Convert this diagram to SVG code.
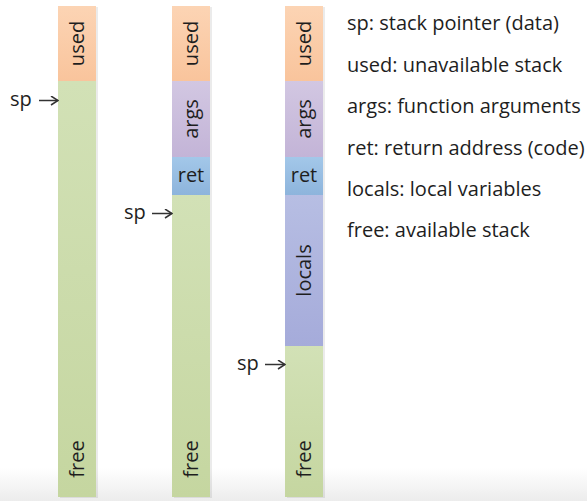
<svg xmlns="http://www.w3.org/2000/svg" width="587" height="501" viewBox="0 0 587 501">
  <defs>
    <linearGradient id="gUsed" x1="0" y1="0" x2="0" y2="1">
      <stop offset="0" stop-color="#fcd4b4"/>
      <stop offset="1" stop-color="#f9c49c"/>
    </linearGradient>
    <linearGradient id="gArgs" x1="0" y1="0" x2="0" y2="1">
      <stop offset="0" stop-color="#d2c7e2"/>
      <stop offset="1" stop-color="#c3b4d7"/>
    </linearGradient>
    <linearGradient id="gRet" x1="0" y1="0" x2="0" y2="1">
      <stop offset="0" stop-color="#a3c7e9"/>
      <stop offset="1" stop-color="#8db4dc"/>
    </linearGradient>
    <linearGradient id="gLocals" x1="0" y1="0" x2="0" y2="1">
      <stop offset="0" stop-color="#b7bee3"/>
      <stop offset="1" stop-color="#a5abda"/>
    </linearGradient>
    <linearGradient id="gFree" x1="0" y1="0" x2="0" y2="1">
      <stop offset="0" stop-color="#d2e1b6"/>
      <stop offset="1" stop-color="#c5d6a0"/>
    </linearGradient>
    <linearGradient id="gBg" x1="0" y1="0" x2="0" y2="1">
      <stop offset="0" stop-color="#ffffff"/>
      <stop offset="1" stop-color="#ececec"/>
    </linearGradient>
    <marker id="arrow" viewBox="0 0 10 10" refX="9" refY="5" markerWidth="10" markerHeight="10" markerUnits="userSpaceOnUse" orient="auto">
      <path d="M2,0.5 L9,5 L2,9.5" fill="none" stroke="#333" stroke-width="1.5"/>
    </marker>
  </defs>
  <style>
    text { font-family: "Open Sans", "Noto Sans", "DejaVu Sans", sans-serif; font-size: 20px; fill: #1e1e1e; }
    .shadow { fill: #000; opacity: 0.08; }
    .arr { stroke: #333; stroke-width: 1.5; fill: none; }
  </style>

  <rect x="0" y="0" width="587" height="501" fill="#ffffff"/>
  <rect x="0" y="468" width="587" height="33" fill="url(#gBg)"/>

  <!-- column 1 -->
  <g id="col1">
    <rect class="shadow" x="60" y="7" width="38" height="491"/>
    <g id="c1-used">
      <rect x="58" y="6" width="38" height="75" fill="url(#gUsed)"/>
      <text transform="translate(84,43.5) rotate(-90)" text-anchor="middle">used</text>
    </g>
    <g id="c1-free">
      <rect x="58" y="81" width="38" height="416" fill="url(#gFree)"/>
      <text transform="translate(84,459) rotate(-90)" text-anchor="middle">free</text>
    </g>
  </g>

  <!-- column 2 -->
  <g id="col2">
    <rect class="shadow" x="174" y="7" width="38" height="491"/>
    <g id="c2-used">
      <rect x="172" y="6" width="38" height="75" fill="url(#gUsed)"/>
      <text transform="translate(198,43.5) rotate(-90)" text-anchor="middle">used</text>
    </g>
    <g id="c2-args">
      <rect x="172" y="81" width="38" height="76" fill="url(#gArgs)"/>
      <text transform="translate(198,119) rotate(-90)" text-anchor="middle">args</text>
    </g>
    <g id="c2-ret">
      <rect x="172" y="157" width="38" height="38" fill="url(#gRet)"/>
      <text x="191" y="182" text-anchor="middle">ret</text>
    </g>
    <g id="c2-free">
      <rect x="172" y="195" width="38" height="302" fill="url(#gFree)"/>
      <text transform="translate(198,459) rotate(-90)" text-anchor="middle">free</text>
    </g>
  </g>

  <!-- column 3 -->
  <g id="col3">
    <rect class="shadow" x="287" y="7" width="38" height="491"/>
    <g id="c3-used">
      <rect x="285" y="6" width="38" height="75" fill="url(#gUsed)"/>
      <text transform="translate(311,43.5) rotate(-90)" text-anchor="middle">used</text>
    </g>
    <g id="c3-args">
      <rect x="285" y="81" width="38" height="76" fill="url(#gArgs)"/>
      <text transform="translate(311,119) rotate(-90)" text-anchor="middle">args</text>
    </g>
    <g id="c3-ret">
      <rect x="285" y="157" width="38" height="38" fill="url(#gRet)"/>
      <text x="304" y="182" text-anchor="middle">ret</text>
    </g>
    <g id="c3-locals">
      <rect x="285" y="195" width="38" height="151" fill="url(#gLocals)"/>
      <text transform="translate(311,270.5) rotate(-90)" text-anchor="middle">locals</text>
    </g>
    <g id="c3-free">
      <rect x="285" y="346" width="38" height="151" fill="url(#gFree)"/>
      <text transform="translate(311,459) rotate(-90)" text-anchor="middle">free</text>
    </g>
  </g>

  <!-- sp labels -->
  <g id="sp1"><text x="10" y="106">sp</text></g>
  <g id="sp2"><text x="124" y="219">sp</text></g>
  <g id="sp3"><text x="237" y="370">sp</text></g>

  <g id="connectors">
    <line class="arr" x1="39" y1="100.5" x2="58" y2="100.5" marker-end="url(#arrow)"/>
    <line class="arr" x1="152" y1="213.5" x2="172" y2="213.5" marker-end="url(#arrow)"/>
    <line class="arr" x1="265" y1="364.5" x2="285" y2="364.5" marker-end="url(#arrow)"/>
  </g>

  <!-- legend -->
  <g id="legend">
    <text x="347" y="30">sp: stack pointer (data)</text>
    <text x="347" y="71.5">used: unavailable stack</text>
    <text x="347" y="113">args: function arguments</text>
    <text x="347" y="154.5">ret: return address (code)</text>
    <text x="347" y="196">locals: local variables</text>
    <text x="347" y="237">free: available stack</text>
  </g>
</svg>
